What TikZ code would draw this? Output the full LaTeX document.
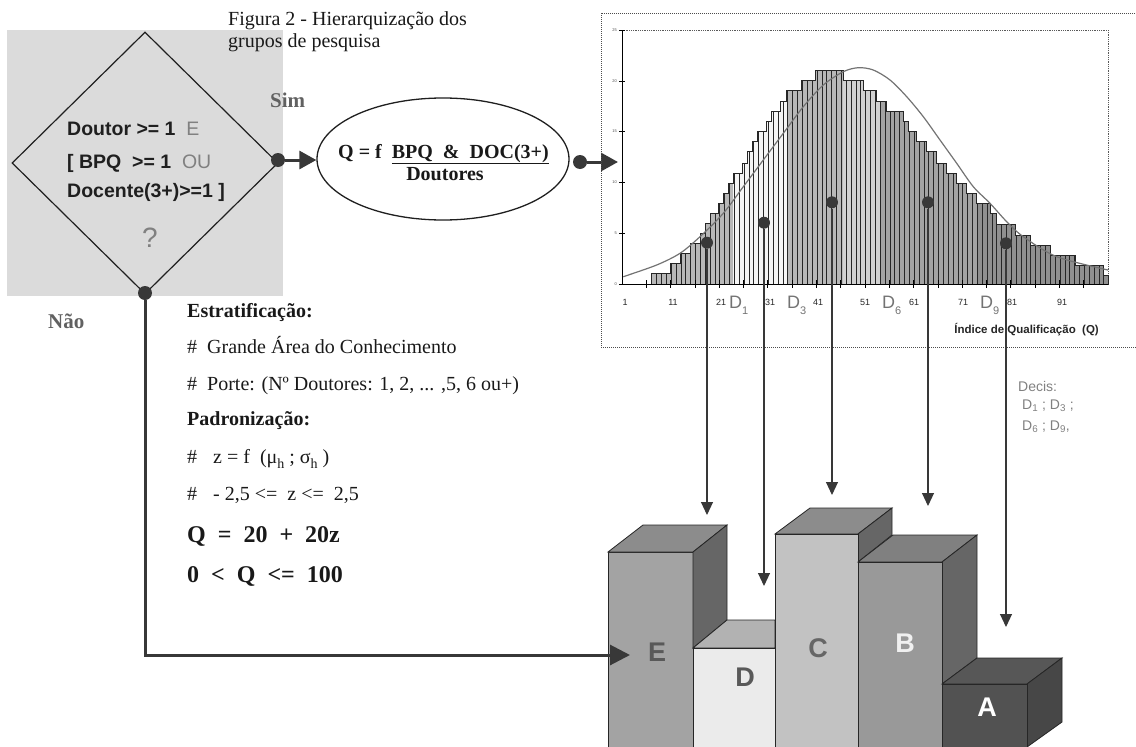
\documentclass[tikz,border=0pt]{standalone}
\usepackage{fontspec}
\setmainfont{Liberation Serif}
\setsansfont{Liberation Sans}
\usetikzlibrary{shapes.geometric,arrows.meta}
\newcommand\mysub[1]{\raisebox{-0.25em}{\fontsize{14}{14}\selectfont #1}}
\newcommand\chsub[1]{\raisebox{-6pt}{\fontsize{11}{11}\selectfont #1}}
\tikzset{
  ser/.style={font=\fontsize{20}{24}\selectfont, anchor=base west, inner sep=0pt, text=black!90},
  serb/.style={ser, font=\bfseries\fontsize{20}{24}\selectfont},
  serbig/.style={ser, font=\bfseries\fontsize{24}{28}\selectfont},
  dtext/.style={font=\sffamily\bfseries\fontsize{19.5}{22}\selectfont, anchor=base west, inner sep=0pt, text=black!88},
  lbl/.style={font=\bfseries\fontsize{21}{24}\selectfont, anchor=base west, inner sep=0pt, text=black!62},
  dot/.style={circle, fill=black!78, minimum size=14pt, inner sep=0pt},
  cdot/.style={circle, fill=black!78, minimum size=12pt, inner sep=0pt},
  conn/.style={line width=3pt, draw=black!78, -{Triangle[width=18pt,length=17pt]}},
  connL/.style={line width=3pt, draw=black!78, -{Triangle[width=20pt,length=20pt]}},
  decl/.style={line width=1.1pt, draw=black!78, -{Triangle[width=12pt,length=13pt]}},
  xlab/.style={font=\sffamily\fontsize{9}{10}\selectfont, inner sep=0pt, text=black!85},
  ylab/.style={font=\sffamily\fontsize{4}{5}\selectfont, inner sep=0pt, anchor=east, text=black!70},
  dlab/.style={font=\sffamily\fontsize{18}{20}\selectfont, anchor=base west, inner sep=0pt, text=black!55},
  declab/.style={font=\sffamily\fontsize{14}{16}\selectfont, anchor=base west, inner sep=0pt, text=black!50},
  face/.style={draw=black!85, line width=0.8pt},
  barlbl/.style={font=\sffamily\bfseries\fontsize{27}{27}\selectfont, inner sep=0pt}
}
\begin{document}
\begin{tikzpicture}[x=1pt,y=-1pt]
\useasboundingbox (0,0) rectangle (1136,747);

% ---------- decision diamond ----------
\fill[black!14] (7,30) rectangle (283,296);
\node[diamond, draw=black!88, line width=1.2pt, minimum width=266pt, minimum height=262pt, inner sep=0pt] (dec) at (145,163) {};
\node[dtext] (t1) at (67,135) {Doutor >= 1\ \ {\mdseries\color{black!50}E}};
\node[dtext] (t2) at (67,168) {[ BPQ\ \ >= 1\ \ {\mdseries\color{black!50}OU}};
\node[dtext] (t3) at (67,197) {Docente(3+)>=1 ]};
\node[font=\sffamily\fontsize{28}{30}\selectfont, anchor=base, inner sep=0pt, text=black!50] (qm) at (150,247) {?};

\node[lbl] (sim) at (270,107) {Sim};
\node[lbl] (nao) at (48,328) {Não};

% ---------- title ----------
\node[ser] (ti1) at (228,25) {Figura 2 - Hierarquização dos};
\node[ser] (ti2) at (228,47) {grupos de pesquisa};

% ---------- ellipse ----------
\node[ellipse, draw=black!88, line width=1.3pt, minimum width=252pt, minimum height=122pt, inner sep=0pt] (ell) at (443,159) {};
\node[serb] (e1) at (338,158) {Q = f\ \ \underline{BPQ\ \ \&\ \ DOC(3+)}};
\node[serb, anchor=base] (e2) at (445,180) {Doutores};

% ---------- connectors ----------
\node[dot] (dR) at (278,160) {};
\node[dot] (dB) at (145,293) {};
\node[dot] (dE) at (580,162) {};
\coordinate (chin) at (618,162);
\coordinate (etip) at (630,655);
\draw[conn] (dR) -- (dR -| ell.west);
\draw[conn] (dE) -- (chin);

% ---------- left text block ----------
\node[serb] (s1) at (187,317) {Estratificação:};
\node[ser] (s2) at (187,353) {\#\hspace{10pt}Grande Área do Conhecimento};
\node[ser] (s3) at (187,390) {\#\hspace{10pt}Porte: (Nº Doutores: 1, 2, ... ,5, 6 ou+)};
\node[serb] (s4) at (187,425) {Padronização:};
\node[ser] (s5) at (187,463) {\#\hspace{16pt}z = f\ \ (μ\mysub{h} ; σ\mysub{h} )};
\node[ser] (s6) at (187,500) {\#\hspace{16pt}- 2,5 <=\ \ z <=\ \ 2,5};
\node[serbig] (s7) at (187,542) {Q\ \ =\ \ 20\ \ +\ \ 20z};
\node[serbig] (s8) at (187,582) {0\ \ <\ \ Q\ \ <=\ \ 100};

% ---------- chart ----------
\draw[densely dotted, line width=1pt, black!70] (601,13) rectangle (1145,347);
\draw[densely dotted, line width=0.8pt, black!65] (622,30) -- (1108,30) -- (1108,284);
\def\histpath{(651.7,284) |- (670,273.3) |- (680,263.3) |- (690,253.3) |- (700,243.3) |- (705,233.3) |- (710,223.3) |- (718.3,213.3) |- (723.3,203.3) |- (728.3,193.3) |- (733.3,183.3) |- (742.7,173.3) |- (747.3,163.3) |- (752.3,151.7) |- (757.3,141.7) |- (766.7,131.7) |- (771.7,121.7) |- (780.7,111.7) |- (786.7,101) |- (801.7,90.7) |- (815,80.7) |- (843.3,70.7) |- (863.3,80.7) |- (876.7,90.7) |- (886.7,101) |- (903.3,111.7) |- (908.3,121.7) |- (916.7,131.7) |- (926.7,141.7) |- (936.7,151.7) |- (946.7,163.3) |- (956.7,173.3) |- (966.7,183.3) |- (976.7,193.3) |- (990,203.3) |- (996.7,213.3) |- (1015,224) |- (1030,235) |- (1050,245) |- (1075,255) |- (1103.3,265.7) |- (1108.3,275.7) -- (1108.3,284) -- cycle}
\begin{scope}
  \clip \histpath;
  \fill[black!28] (640,30) rectangle (733.3,290);
  \fill[black!4] (733.3,30) rectangle (786.7,290);
  \fill[black!28] (786.7,30) rectangle (843.3,290);
  \fill[black!18] (843.3,30) rectangle (880,290);
  \fill[black!36] (880,30) rectangle (977,290);
  \fill[black!44] (977,30) rectangle (1110,290);
  \foreach \i in {0,...,94} \draw[black!85, line width=0.6pt] ({651.7+\i*4.86},290) -- ({651.7+\i*4.86},30);
\end{scope}
\draw[line width=0.8pt, black!85] \histpath;
\draw[line width=1.2pt, black!55, smooth] plot coordinates {(623.3,276.7) (656.7,265) (680,253.3) (700,236.7) (723.3,213.3) (743.3,186.7) (763.3,160) (783.3,133.3) (803.3,106.7) (823.3,85) (843.3,71.7) (858.3,67.7) (873.3,70) (890,80) (906.7,96.7) (923.3,116.7) (940,140) (956.7,163.3) (973.3,186.7) (990,203.3) (1006.7,221.7) (1023.3,236.7) (1056.7,256.7) (1108,270)};
% axes
\draw[line width=1pt, black] (622,30) -- (622,284) -- (1108,284);
\foreach \yy in {30,81,131,182,233,284} \draw[line width=0.8pt] (619,\yy) -- (625,\yy);
\foreach \k in {1,...,19} \draw[line width=0.8pt] ({622+\k*24.3},280) -- ({622+\k*24.3},288);
\node[ylab] (y0) at (617,284) {0};
\node[ylab] (y5) at (617,233) {5};
\node[ylab] (y10) at (617,182) {10};
\node[ylab] (y15) at (617,131) {15};
\node[ylab] (y20) at (617,81) {20};
\node[ylab] (y25) at (617,30) {25};
\foreach \xx/\tt in {625/1,673/11,721/21,770/31,818/41,865/51,914/61,963/71,1012/81,1062/91}
  \node[xlab] at (\xx,302) {\tt};
\node[dlab] (D1) at (729,308) {D\chsub{1}};
\node[dlab] (D3) at (787,308) {D\chsub{3}};
\node[dlab] (D6) at (882,308) {D\chsub{6}};
\node[dlab] (D9) at (980,308) {D\chsub{9}};
\node[font=\sffamily\bfseries\fontsize{11.5}{13}\selectfont, anchor=base east, inner sep=0pt, text=black!85] (xt) at (1099,333) {Índice de Qualificação\ \ (Q)};

\node[declab] (dc1) at (1018,391) {Decis:};
\node[declab] (dc2) at (1022,409) {D\textsubscript{1} ; D\textsubscript{3} ;};
\node[declab] (dc3) at (1022,430) {D\textsubscript{6} ; D\textsubscript{9},};

% ---------- 3D bars ----------
% E
\fill[black!36, face] (608,552) -- (693,552) -- (693,747) -- (608,747) -- cycle;
\fill[black!45, face] (608,552) -- (643,525) -- (727,525) -- (693,552) -- cycle;
\fill[black!60, face] (693,552) -- (727,525) -- (727,620) -- (693,648) -- cycle;
% D
\fill[black!30, face] (693,648) -- (727,620) -- (775,620) -- (775,648) -- cycle;
\fill[black!8, face] (693,648) -- (775,648) -- (775,747) -- (693,747) -- cycle;
% C
\fill[black!45, face] (775,534) -- (810,508) -- (892,508) -- (858,534) -- cycle;
\fill[black!60, face] (858,534) -- (892,508) -- (892,535) -- (858,562) -- cycle;
\fill[black!24, face] (775,534) -- (858,534) -- (858,747) -- (775,747) -- cycle;
% B
\fill[black!50, face] (858,562) -- (893,535) -- (977,535) -- (942,562) -- cycle;
\fill[black!60, face] (942,562) -- (977,535) -- (977,658) -- (942,684) -- cycle;
\fill[black!40, face] (858,562) -- (942,562) -- (942,747) -- (858,747) -- cycle;
% A
\fill[black!66, face] (942,684) -- (977,658) -- (1062,658) -- (1027,684) -- cycle;
\fill[black!72, face] (1027,684) -- (1062,658) -- (1062,722) -- (1027,747) -- cycle;
\fill[black!68, face] (942,684) -- (1027,684) -- (1027,747) -- (942,747) -- cycle;
\node[barlbl, text=black!65] (lE) at (657,652) {E};
\node[barlbl, text=black!65] (lD) at (745,677) {D};
\node[barlbl, text=black!60] (lC) at (818,648) {C};
\node[barlbl, text=black!6] (lB) at (905,643) {B};
\node[barlbl, text=white] (lA) at (987,707) {A};

\draw[connL] (dB) |- (etip);

% ---------- decile markers ----------
\node[cdot] (q1) at (707,242.7) {};
\node[cdot] (q3) at (764,222.7) {};
\node[cdot] (q5) at (832,202.3) {};
\node[cdot] (q6) at (928,202.3) {};
\node[cdot] (q9) at (1006,243.3) {};
\coordinate (a1) at (707,515);
\coordinate (a3) at (764,586);
\coordinate (a5) at (832,495);
\coordinate (a6) at (928,506);
\coordinate (a9) at (1006,627);
\draw[decl] (q1) -- (a1);
\draw[decl] (q3) -- (a3);
\draw[decl] (q5) -- (a5);
\draw[decl] (q6) -- (a6);
\draw[decl] (q9) -- (a9);
\end{tikzpicture}
\end{document}
